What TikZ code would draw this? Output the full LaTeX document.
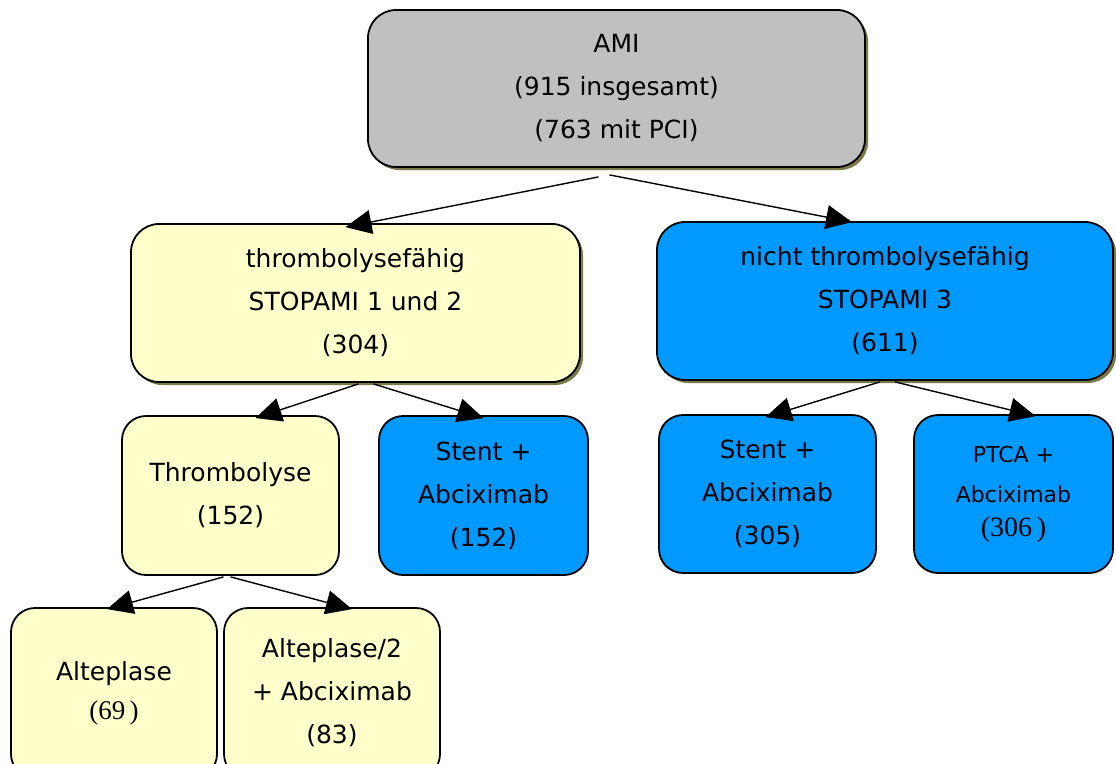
\documentclass[tikz,border=0pt]{standalone}
\usepackage{fontspec}
\setmainfont{DejaVu Sans}
\newfontfamily\serifnum{Liberation Serif}
\usetikzlibrary{arrows.meta,shadows}
\definecolor{amigray}{HTML}{C0C0C0}
\definecolor{pyellow}{HTML}{FFFFCC}
\definecolor{pblue}{HTML}{0099FF}
\definecolor{shadowol}{HTML}{7A7A48}
\tikzset{
  box/.style={draw=black, line width=1.8pt, rounded corners=28pt, align=center,
    inner sep=0pt, font=\fontsize{25}{43}\selectfont, text=black},
  shadowbox/.style={box, drop shadow={shadow xshift=3pt, shadow yshift=-3pt, fill=shadowol, opacity=1}},
  arr/.style={line width=1.4pt, -{Triangle[length=26pt,width=24pt]}},
}
\begin{document}
\begin{tikzpicture}[x=1pt,y=-1pt]
\useasboundingbox (0,0) rectangle (1116,763);
\begin{scope}
\clip (0,0) rectangle (1116,763);
\node[shadowbox, fill=amigray, minimum width=497pt, minimum height=157pt] (ami) at (616.5,88.5)
  {AMI\\(915 insgesamt)\\(763 mit PCI)};
\node[shadowbox, fill=pyellow, minimum width=449pt, minimum height=158pt] (thr) at (355.5,303)
  {thrombolysef\"ahig\\STOPAMI 1 und 2\\(304)};
\node[shadowbox, fill=pblue, minimum width=456pt, minimum height=158pt] (nth) at (885,301)
  {nicht thrombolysef\"ahig\\STOPAMI 3\\(611)};
\node[box, rounded corners=24pt, fill=pyellow, minimum width=217pt, minimum height=159pt] (tb) at (230.5,495.5)
  {Thrombolyse\\(152)};
\node[box, rounded corners=24pt, fill=pblue, minimum width=209pt, minimum height=159pt] (s1) at (483.5,495.5)
  {Stent +\\Abciximab\\(152)};
\node[box, rounded corners=24pt, fill=pblue, minimum width=217pt, minimum height=158pt] (s2) at (767.5,494)
  {Stent +\\Abciximab\\(305)};
\node[box, rounded corners=24pt, fill=pblue, minimum width=199pt, minimum height=158pt,
  font=\fontsize{22}{40}\selectfont] (ptca) at (1013.5,494)
  {PTCA +\\Abciximab\\[-6pt]{\serifnum\fontsize{28}{28}\selectfont(306\,)}};
\node[box, rounded corners=24pt, fill=pyellow, minimum width=206pt, minimum height=170pt] (alt) at (114,693)
  {Alteplase\\[-4pt]{\serifnum\fontsize{27}{27}\selectfont(69\,)}};
\node[box, rounded corners=24pt, fill=pyellow, minimum width=216pt, minimum height=170pt] (alt2) at (332,693)
  {Alteplase/2\\+ Abciximab\\(83)};
\end{scope}
\draw[arr] ([xshift=-18pt,yshift=-9pt]ami.south) -- ([xshift=-10pt,yshift=-4pt]thr.north);
\draw[arr] ([xshift=-7pt,yshift=-7pt]ami.south) -- ([xshift=-33pt,yshift=-1pt]nth.north);
\draw[arr] ([xshift=3pt,yshift=-1pt]thr.south) -- ([xshift=25pt,yshift=-3pt]tb.north);
\draw[arr] ([xshift=18pt,yshift=-1pt]thr.south) -- ([xshift=0pt,yshift=-3pt]s1.north);
\draw[arr] ([xshift=-5pt,yshift=-1pt]nth.south) -- ([xshift=-2pt,yshift=-3pt]s2.north);
\draw[arr] ([xshift=10pt,yshift=-1pt]nth.south) -- ([xshift=22pt,yshift=-2pt]ptca.north);
\draw[arr] ([xshift=-7pt,yshift=-1pt]tb.south) -- ([xshift=-7pt,yshift=-2pt]alt.north);
\draw[arr] ([xshift=0pt,yshift=-1pt]tb.south) -- ([xshift=20pt,yshift=-2pt]alt2.north);
\end{tikzpicture}
\end{document}
